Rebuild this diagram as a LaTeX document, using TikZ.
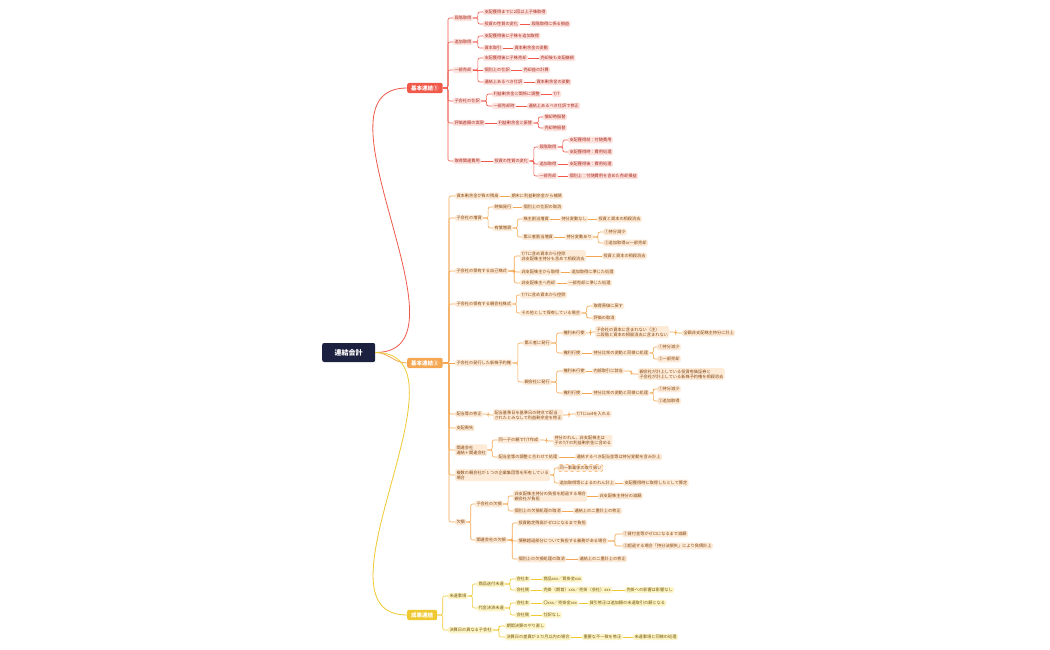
\documentclass[tikz,border=0pt]{standalone}
\usepackage{fontspec}
\setmainfont{Noto Sans CJK JP}
\usetikzlibrary{calc}
\definecolor{rl}{HTML}{F0584A}\definecolor{rf}{HTML}{FDE2DE}\definecolor{rt}{HTML}{A8281C}
\definecolor{ol}{HTML}{F5A650}\definecolor{of}{HTML}{FDEBD8}\definecolor{ot}{HTML}{86460E}
\definecolor{yl}{HTML}{F0C930}\definecolor{yf}{HTML}{FDF5C8}\definecolor{yt}{HTML}{74560A}
\definecolor{rootc}{HTML}{1D2140}
\newcommand\ch[5]{\node[n,anchor=west] (#2) at (#3pt,-#4pt) {#5};
 \path (#1.east); \pgfgetlastxy{\myax}{\myay}%
 \path (#2.west); \pgfgetlastxy{\mybx}{\myby}%
 \pgfmathparse{abs(\myay-\myby)}%
 \ifdim\pgfmathresult pt<0.5pt
   \draw[e] (#1.east) -- (#2.west);
 \else
   \draw[e] (#1.east) -| ($(#1.east)!.5!(#2.west)$) |- (#2.west);
 \fi}
\begin{document}
\begin{tikzpicture}[x=1pt,y=1pt,
 base/.style={font=\fontsize{4.2}{5}\selectfont,inner sep=1.3pt,rounded corners=1.5pt,align=left},
 e/.style={line width=0.6pt,rounded corners=2pt},
 br/.style={font=\fontsize{5.5}{6.5}\selectfont\bfseries,text=white,inner xsep=4pt,inner ysep=2.5pt,rounded corners=2pt,anchor=west}]
\useasboundingbox (0,0) rectangle (1050,-650);
\fill[white] (0,0) rectangle (1050,-650);
\node[fill=rootc,text=white,font=\fontsize{7}{8}\selectfont\bfseries,minimum width=53pt,minimum height=19pt,rounded corners=2pt,anchor=west] (root) at (322,-352.5) {連結会計};
\node[br,fill=rl] (B1) at (407,-88) {基本連結①};
\node[br,fill=ol] (B2) at (407,-363) {基本連結②};
\node[br,fill=yl] (B3) at (407,-615) {成果連結};
\draw[rl,line width=0.8pt] (root.east) to[out=0,in=180] (B1.west);
\draw[ol,line width=0.8pt] (root.east) to[out=0,in=180] (B2.west);
\draw[yl,line width=0.8pt] (root.east) to[out=0,in=180] (B3.west);
% ---------- branch 1
\begin{scope}[n/.style={base,fill=rf,text=rt},e/.append style={draw=rl}]
\ch{B1}{a1}{453}{18}{段階取得}
\ch{a1}{a11}{483}{12}{支配獲得までに2回以上子株取得}
\ch{a1}{a12}{483}{24}{投資の性質の変化}
\ch{a12}{a121}{530}{24}{段階取得に係る損益}
\ch{B1}{a2}{453}{42}{追加取得}
\ch{a2}{a21}{483}{36}{支配獲得後に子株を追加取得}
\ch{a2}{a22}{483}{48}{資本取引}
\ch{a22}{a221}{513}{48}{資本剰余金の変動}
\ch{B1}{a3}{453}{70}{一部売却}
\ch{a3}{a31}{483}{58}{支配獲得後に子株売却}
\ch{a31}{a311}{539}{58}{売却後も支配継続}
\ch{a3}{a32}{483}{70}{個別上の仕訳}
\ch{a32}{a321}{522}{70}{売却益の計算}
\ch{a3}{a33}{483}{82}{連結上あるべき仕訳}
\ch{a33}{a331}{535}{82}{資本剰余金の変動}
\ch{B1}{a4}{453}{101}{子会社の仕訳}
\ch{a4}{a41}{492}{94}{利益剰余金と関係に調整}
\ch{a41}{a411}{552}{94}{T/T}
\ch{a4}{a42}{492}{106}{一部売却時}
\ch{a42}{a421}{527}{106}{連結上あるべき仕訳で修正}
\ch{B1}{a5}{453}{123}{評価差額の実現}
\ch{a5}{a51}{497}{123}{利益剰余金と振替}
\ch{a51}{a511}{543}{117}{償却時振替}
\ch{a51}{a512}{543}{128}{売却時振替}
\ch{B1}{a6}{453}{161}{取得関連費用}
\ch{a6}{a61}{493}{161}{投資の性質の変化}
\ch{a61}{a611}{538}{147}{段階取得}
\ch{a611}{a6111}{568}{140}{支配獲得前：付随費用}
\ch{a611}{a6112}{568}{152}{支配獲得時：費用処理}
\ch{a61}{a612}{538}{164}{追加取得}
\ch{a612}{a6121}{568}{164}{支配獲得後：費用処理}
\ch{a61}{a613}{538}{176}{一部売却}
\ch{a613}{a6131}{568}{176}{個別上：付随費用を含めた売却損益}
\end{scope}
% ---------- branch 2
\begin{scope}[n/.style={base,fill=of,text=ot},e/.append style={draw=ol}]
\ch{B2}{b1}{455}{196}{資本剰余金が負の残高}
\ch{b1}{b11}{510}{196}{期末に利益剰余金から補填}
\ch{B2}{b2}{455}{218}{子会社の増資}
\ch{b2}{b21}{493}{207}{時価発行}
\ch{b21}{b211}{522}{207}{個別上の仕訳の取消}
\ch{b2}{b22}{493}{228}{有償増資}
\ch{b22}{b221}{522}{219}{株主割当増資}
\ch{b221}{b2211}{560}{219}{持分変動なし}
\ch{b2211}{b2212}{597}{219}{投資と資本の相殺消去}
\ch{b22}{b222}{522}{237}{第三者割当増資}
\ch{b222}{b2221}{565}{237}{持分変動あり}
\ch{b2221}{b2222}{603}{232}{①持分減少}
\ch{b2221}{b2223}{603}{243}{②追加取得or一部売却}
\ch{B2}{b3}{455}{271}{子会社の保有する自己株式}
\ch{b3}{b31}{520}{256}{T/Tに含め資本から控除\\非支配株主持分も含めて相殺消去}
\ch{b31}{b311}{602}{256}{投資と資本の相殺消去}
\ch{b3}{b32}{520}{272}{非支配株主から取得}
\ch{b32}{b321}{570}{272}{追加取得に準じた処理}
\ch{b3}{b33}{520}{283}{非支配株主へ売却}
\ch{b33}{b331}{567}{283}{一部売却に準じた処理}
\ch{B2}{b4}{455}{304}{子会社の保有する親会社株式}
\ch{b4}{b41}{520}{295}{T/Tに含め資本から控除}
\ch{b4}{b42}{520}{313}{その他として保有している場合}
\ch{b42}{b421}{592}{306}{取得原価に戻す}
\ch{b42}{b422}{592}{318}{評価の取消}
\ch{B2}{b5}{455}{363}{子会社の発行した新株予約権}
\ch{b5}{b51}{523}{343}{第三者に発行}
\ch{b51}{b511}{562}{333}{権利未行使}
\ch{b511}{b5111}{595}{332}{子会社の資本に含まれない（注）\\二段階と資本の相殺消去に含まれない}
\ch{b5111}{b5112}{682}{333}{全額非支配株主持分に計上}
\ch{b51}{b512}{562}{353}{権利行使}
\ch{b512}{b5121}{592}{353}{持分比率の変動と同様に処理}
\ch{b5121}{b5122}{657}{347}{①持分減少}
\ch{b5121}{b5123}{657}{359}{②一部売却}
\ch{b5}{b52}{523}{382}{親会社に発行}
\ch{b52}{b521}{562}{371}{権利未行使}
\ch{b521}{b5211}{592}{371}{内部取引に該当}
\ch{b5211}{b5212}{638}{374}{親会社が計上している投資有価証券と\\子会社が計上している新株予約権を相殺消去}
\ch{b52}{b522}{562}{393}{権利行使}
\ch{b522}{b5221}{592}{393}{持分比率の変動と同様に処理}
\ch{b5221}{b5222}{657}{389}{①持分減少}
\ch{b5221}{b5223}{657}{401}{②追加取得}
\ch{B2}{b6}{455}{414}{配当等の修正}
\ch{b6}{b61}{493}{415}{配当基準日を基準日の時点で配当\\されたとみなして利益剰余金を修正}
\ch{b61}{b611}{575}{414}{T/Tにxx4を入れる}
\ch{B2}{b7}{455}{428}{支配喪失}
\ch{B2}{b8}{455}{450}{関連会社\\連結＋関連会社}
\ch{b8}{b81}{497}{440}{同一子の親でT/T作成}
\ch{b81}{b811}{553}{441}{持分のれん、非支配株主は\\子のT/Tの利益剰余金に含める}
\ch{b8}{b82}{497}{457}{配当金等の調整と合わせて処理}
\ch{b82}{b821}{575}{457}{連結するべき配当金等は持分変動を含み計上}
\ch{B2}{b9}{455}{475}{複数の親会社が１つの企業集団等を所有している\\場合}
\ch{b9}{b91}{558}{468}{同一事業体の取り扱い}
\draw[ol,dashed,rounded corners=1.5pt,line width=0.5pt] (b91.south west) rectangle (b91.north east);
\ch{b9}{b92}{558}{483}{追加取得等によるのれん計上}
\ch{b92}{b921}{623}{483}{支配獲得時に取得したとして算定}
\ch{B2}{b10}{455}{522}{欠損}
\ch{b10}{b101}{475}{504}{子会社の欠損}
\ch{b101}{b1011}{513}{496}{非支配株主持分の負担を超過する場合\\親会社が負担}
\ch{b1011}{b1012}{598}{496}{非支配株主持分の減額}
\ch{b101}{b1013}{513}{511}{個別上の欠損処理の取消}
\ch{b1013}{b1014}{573}{511}{連結上の二重計上の修正}
\ch{b10}{b102}{475}{540}{関連会社の欠損}
\ch{b102}{b1021}{517}{523}{投資勘定残高がゼロになるまで負担}
\ch{b102}{b1022}{517}{541}{債務超過部分について負担する義務がある場合}
\ch{b1022}{b1023}{622}{534}{①貸付金等がゼロになるまで減額}
\ch{b1022}{b1024}{622}{546}{②超過する場合「持分法損失」により負債計上}
\ch{b102}{b1025}{517}{559}{個別上の欠損処理の取消}
\ch{b1025}{b1026}{578}{559}{連結上の二重計上の修正}
\end{scope}
% ---------- branch 3
\begin{scope}[n/.style={base,fill=yf,text=yt},e/.append style={draw=yl}]
\ch{B3}{c1}{448}{596}{未達事項}
\ch{c1}{c11}{477}{584}{商品送付未達}
\ch{c11}{c111}{515}{579}{会社本}
\ch{c111}{c1111}{542}{579}{商品xxx／買掛金xxx}
\ch{c11}{c112}{515}{590}{会社側}
\ch{c112}{c1121}{542}{590}{売掛（期首）xxx／売掛（会社）xxx}
\ch{c1121}{c1122}{625}{590}{売掛への影響は影響なし}
\ch{c1}{c12}{477}{608}{代金決済未達}
\ch{c12}{c121}{515}{603}{会社本}
\ch{c121}{c1211}{542}{603}{〇xxx／売掛金xxx}
\ch{c1211}{c1212}{588}{603}{貸引修正は追加額の未達取引の額となる}
\ch{c12}{c122}{515}{615}{会社側}
\ch{c122}{c1221}{542}{615}{仕訳なし}
\ch{B3}{c2}{448}{630}{決算日の異なる子会社}
\ch{c2}{c21}{505}{626}{期間決算のやり直し}
\ch{c2}{c22}{505}{637}{決算日の差異が３カ月以内の場合}
\ch{c22}{c221}{582}{637}{重要な不一致を修正}
\ch{c221}{c222}{633}{637}{未達事項と同様の処理}
\end{scope}
\end{tikzpicture}
\end{document}
